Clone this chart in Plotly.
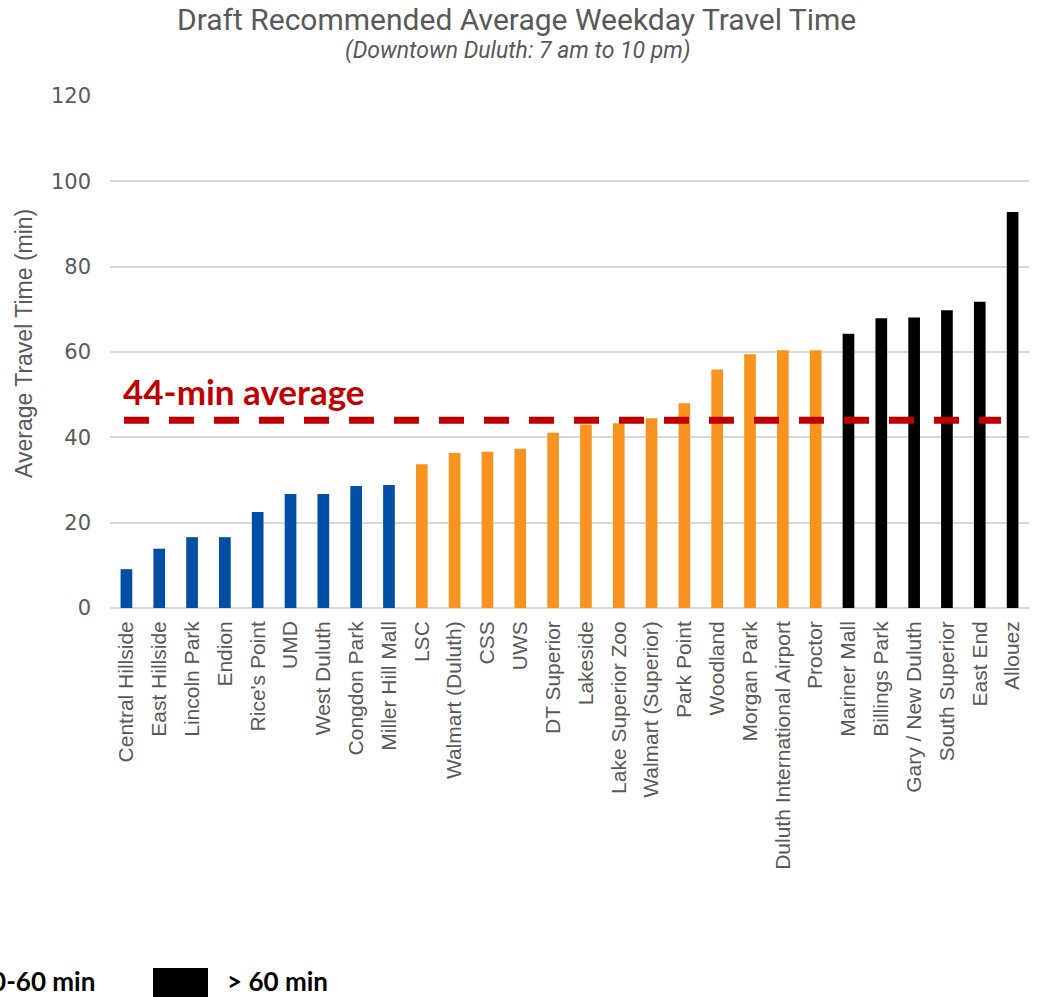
import plotly.graph_objects as go

# --- data -------------------------------------------------------------
stops = [
    "Central Hillside", "East Hillside", "Lincoln Park", "Endion", "Rice's Point",
    "UMD", "West Duluth", "Congdon Park", "Miller Hill Mall", "LSC",
    "Walmart (Duluth)", "CSS", "UWS", "DT Superior", "Lakeside",
    "Lake Superior Zoo", "Walmart (Superior)", "Park Point", "Woodland", "Morgan Park",
    "Duluth International Airport", "Proctor", "Mariner Mall", "Billings Park",
    "Gary / New Duluth", "South Superior", "East End", "Allouez",
]
travel_min = [
    9.1, 13.9, 16.6, 16.6, 22.5,
    26.7, 26.7, 28.6, 28.8, 33.7,
    36.3, 36.6, 37.3, 41.1, 43.0,
    43.3, 44.5, 48.0, 55.9, 59.5,
    60.4, 60.4, 64.3, 67.9,
    68.1, 69.8, 71.8, 92.8,
]
band = [
    "lt30", "lt30", "lt30", "lt30", "lt30",
    "lt30", "lt30", "lt30", "lt30", "30to60",
    "30to60", "30to60", "30to60", "30to60", "30to60",
    "30to60", "30to60", "30to60", "30to60", "30to60",
    "30to60", "30to60", "gt60", "gt60",
    "gt60", "gt60", "gt60", "gt60",
]
average_min = 44
band_colors = {"lt30": "#004EA6", "30to60": "#F7931E", "gt60": "#000000"}
legend_labels = ["30-60 min", "> 60 min"]

# --- layout geometry --------------------------------------------------
W, H = 1038, 997
L, R, T, B = 110, 9, 96, 389
PW, PH = W - L - R, H - T - B


def px(x):
    return (x - L) / PW


def py(y):
    return (T + PH - y) / PH


GRAY = "#595959"

fig = go.Figure()
fig.add_trace(go.Bar(
    x=stops,
    y=travel_min,
    marker=dict(color=[band_colors[b] for b in band], line=dict(width=0)),
    showlegend=False,
    hovertemplate="%{x}: %{y} min<extra></extra>",
))

# average reference line
fig.add_shape(
    type="line", xref="paper", yref="y",
    x0=px(124), x1=px(1001), y0=average_min, y1=average_min,
    line=dict(color="#C00000", width=7, dash="25px,20px"),
    layer="above",
)

annotations = [
    dict(text="Draft Recommended Average Weekday Travel Time",
         xref="paper", yref="paper", x=px(516), y=py(19),
         xanchor="center", yanchor="middle", showarrow=False,
         font=dict(family="Roboto", size=30, color=GRAY)),
    dict(text="<i>(Downtown Duluth: 7 am to 10 pm)</i>",
         xref="paper", yref="paper", x=px(518), y=py(50),
         xanchor="center", yanchor="middle", showarrow=False,
         font=dict(family="Roboto", size=23, color=GRAY)),
    dict(text="Average Travel Time (min)",
         xref="paper", yref="paper", x=px(24), y=py(344),
         xanchor="center", yanchor="middle", textangle=-90, showarrow=False,
         font=dict(family="Liberation Sans", size=23, color=GRAY)),
    dict(text="<b>%d-min average</b>" % average_min,
         xref="paper", yref="paper", x=px(121), y=py(391),
         xanchor="left", yanchor="middle", showarrow=False,
         font=dict(family="Lato", size=35, color="#C00000")),
    dict(text="<b>%s</b>" % legend_labels[0],
         xref="paper", yref="paper", x=px(97), y=py(981),
         xanchor="right", yanchor="middle", showarrow=False,
         font=dict(family="Lato", size=26, color="#000000")),
    dict(text="<b>%s</b>" % legend_labels[1],
         xref="paper", yref="paper", x=px(225), y=py(981),
         xanchor="left", yanchor="middle", showarrow=False,
         font=dict(family="Lato", size=26, color="#000000")),
]

# legend swatch for the > 60 band
fig.add_shape(
    type="rect", xref="paper", yref="paper",
    x0=px(153), x1=px(208), y0=py(968), y1=py(1010),
    fillcolor=band_colors["gt60"], line=dict(width=0),
)

fig.update_layout(
    width=W, height=H,
    margin=dict(l=L, r=R, t=T, b=B, autoexpand=False),
    paper_bgcolor="white", plot_bgcolor="white",
    bargap=0.644,
    annotations=annotations,
    font=dict(family="Liberation Sans", color=GRAY),
)
fig.update_xaxes(
    type="category", tickangle=-90,
    tickfont=dict(family="Liberation Sans", size=21, color=GRAY),
    showgrid=False, showline=False, ticks="", ticklabelstandoff=8,
)
fig.update_yaxes(
    range=[0, 120], dtick=20, tick0=0,
    showgrid=True, gridcolor="#D9D9D9", gridwidth=1.5,
    zeroline=True, zerolinecolor="#D9D9D9", zerolinewidth=1.5,
    showline=False, ticks="", ticklabelstandoff=18,
    tickfont=dict(family="DejaVu Sans", size=21, color=GRAY),
)

fig.write_html("out.html")
